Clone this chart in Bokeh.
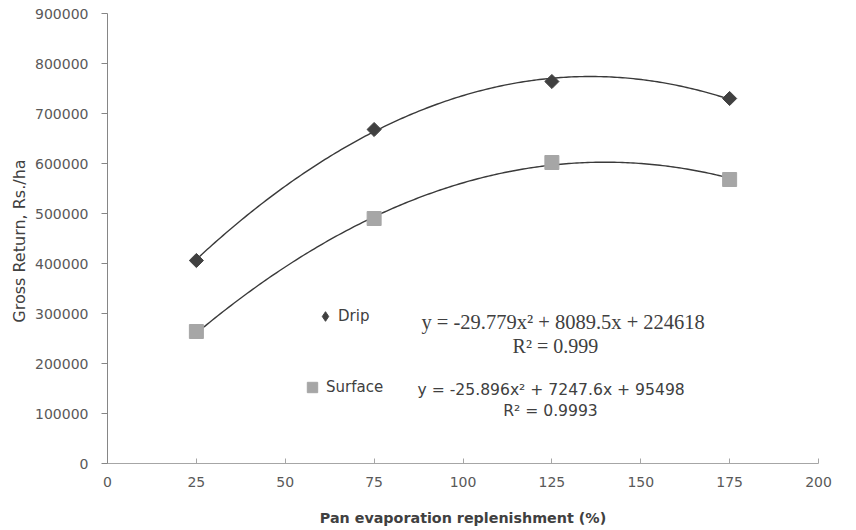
import numpy as np
from bokeh.plotting import figure
from bokeh.models import (Range1d, FixedTicker, BasicTickFormatter, Legend, LegendItem, Label)
from bokeh.embed import file_html
from bokeh.resources import INLINE

# ---- data ----
per = [25, 75, 125, 175]
drip = [406000, 668000, 764000, 730000]
surface = [264000, 490000, 602000, 568000]
drip_coef = [-29.779, 8089.5, 224618]
surface_coef = [-25.896, 7247.6, 95498]
x_ticks = [0, 25, 50, 75, 100, 125, 150, 175, 200]
y_ticks = [0, 100000, 200000, 300000, 400000, 500000, 600000, 700000, 800000, 900000]
drip_eq = "y = -29.779x\u00b2 + 8089.5x + 224618"
drip_r2 = "R\u00b2 = 0.999"
surf_eq = "y = -25.896x\u00b2 + 7247.6x + 95498"
surf_r2 = "R\u00b2 = 0.9993"
y_title = "Gross Return,  Rs./ha"
x_title = "Pan evaporation replenishment (%)"

TICK_FONT = "DejaVu Sans"
DARK = "#404040"

p = figure(width=856, height=530, output_backend="svg", toolbar_location=None,
           x_range=Range1d(0, 200), y_range=Range1d(0, 900000),
           min_border_left=107, min_border_right=38, min_border_top=13, min_border_bottom=67)
p.outline_line_color = None
p.grid.visible = False
p.background_fill_color = "white"

# trend curves (from the fitted equations shown on the chart)
xs = np.linspace(per[0], per[-1], 200)
p.line(xs, np.polyval(drip_coef, xs), line_color="#3a3a3a", line_width=1.4)
p.line(xs, np.polyval(surface_coef, xs), line_color="#3a3a3a", line_width=1.4)

p.scatter(per, drip, marker="square", angle=np.pi / 4, size=10,
          fill_color=DARK, line_color=DARK)
r_surf = p.scatter(per, surface, marker="square", size=14,
                   fill_color="#a6a6a6", line_color="#a6a6a6")
# legend-only glyph (hidden renderer)
r_drip_leg = p.scatter(per, drip, marker="diamond", fill_color=DARK, line_color=DARK,
                       visible=False)

# axes
xa = p.xaxis[0]
xa.ticker = FixedTicker(ticks=x_ticks)
xa.major_tick_in = 5
xa.major_tick_out = 0
xa.minor_tick_line_color = None
xa.axis_line_color = "#a6a6a6"
xa.major_tick_line_color = "#a6a6a6"
xa.major_label_text_font = TICK_FONT
xa.major_label_text_font_size = "14px"
xa.major_label_text_color = "#595959"
xa.major_label_standoff = 13
xa.axis_label = x_title
xa.axis_label_text_font = "DejaVu Sans"
xa.axis_label_text_font_style = "bold"
xa.axis_label_text_font_size = "14.3px"
xa.axis_label_text_color = DARK
xa.axis_label_standoff = 20

ya = p.yaxis[0]
ya.ticker = FixedTicker(ticks=y_ticks)
ya.formatter = BasicTickFormatter(use_scientific=False)
ya.major_tick_in = 0
ya.major_tick_out = 6
ya.minor_tick_line_color = None
ya.axis_line_color = "#868686"
ya.major_tick_line_color = "#868686"
ya.major_label_text_font = TICK_FONT
ya.major_label_text_font_size = "14px"
ya.major_label_text_color = "#595959"
ya.major_label_standoff = 13
ya.axis_label = y_title
ya.axis_label_text_font = "DejaVu Sans"
ya.axis_label_text_font_style = "normal"
ya.axis_label_text_font_size = "16px"
ya.axis_label_text_color = DARK
ya.axis_label_standoff = 3

# legends
for item, loc, gw in [(LegendItem(label="Drip", renderers=[r_drip_leg]), (206, 135), 24),
                      (LegendItem(label="Surface", renderers=[r_surf]), (192, 63), 26)]:
    lg = Legend(items=[item], location=loc, padding=0, margin=0, border_line_color=None,
                background_fill_alpha=0, glyph_width=gw, glyph_height=gw, label_standoff=1,
                label_text_font="DejaVu Sans", label_text_font_size="15px",
                label_text_color=DARK)
    p.add_layout(lg, "center")

# equations
p.add_layout(Label(x=88.3, y=283000, text=drip_eq, text_font="Liberation Serif",
                   text_font_size="20.5px", text_color=DARK, text_baseline="middle"))
p.add_layout(Label(x=126.0, y=236000, text=drip_r2, text_font="Liberation Serif",
                   text_font_size="20px", text_color=DARK, text_baseline="middle",
                   text_align="center"))
p.add_layout(Label(x=87.2, y=148000, text=surf_eq, text_font="DejaVu Sans",
                   text_font_size="15.6px", text_color=DARK, text_baseline="middle"))
p.add_layout(Label(x=124.6, y=106000, text=surf_r2, text_font="DejaVu Sans",
                   text_font_size="15.6px", text_color=DARK, text_baseline="middle",
                   text_align="center"))

open("out.html", "w").write(file_html(p, INLINE))
